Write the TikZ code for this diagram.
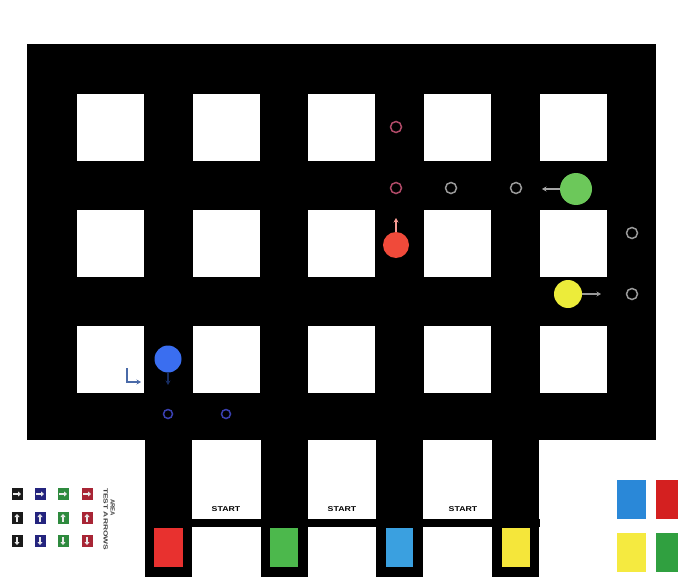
\documentclass[tikz,border=0pt]{standalone}
\usepackage{fontspec}
\setsansfont{Liberation Sans}
\usetikzlibrary{arrows.meta}
\definecolor{cRed}{HTML}{F04A3A}
\definecolor{cGreen}{HTML}{6CC85A}
\definecolor{cYellow}{HTML}{ECEC3A}
\definecolor{cBlue}{HTML}{3A6EF0}
\definecolor{ringRed}{HTML}{B04A68}
\definecolor{ringGray}{HTML}{9A9A9A}
\definecolor{ringBlue}{HTML}{3A40B0}
\definecolor{padRed}{HTML}{E8312F}
\definecolor{padGreen}{HTML}{4CB84C}
\definecolor{padBlue}{HTML}{3AA0E0}
\definecolor{padYellow}{HTML}{F5E63A}
\definecolor{sBlue}{HTML}{2A88D8}
\definecolor{sRed}{HTML}{D42020}
\definecolor{sYellow}{HTML}{F5EA40}
\definecolor{sGreen}{HTML}{30A040}
\definecolor{lgBlack}{HTML}{1A1A1A}
\definecolor{lgNavy}{HTML}{24247E}
\definecolor{lgGreen}{HTML}{2E8A3E}
\definecolor{lgRed}{HTML}{A82535}
\definecolor{hookBlue}{HTML}{4A6AA8}
\begin{document}
\begin{tikzpicture}[x=1pt,y=-1pt,
  ring/.style={circle,draw,line width=1.5pt,minimum size=11pt,inner sep=0pt},
  smallring/.style={circle,draw=ringBlue,line width=1.5pt,minimum size=9pt,inner sep=0pt},
  bot/.style={circle,inner sep=0pt},
  dirarrow/.style={-{Stealth[length=4.5pt,width=5pt]},line width=1.2pt},
  startlbl/.style={font=\sffamily\bfseries\fontsize{7}{8}\selectfont,inner sep=0pt},
  lgbox/.style={minimum width=11pt,minimum height=12pt,inner sep=0pt},
  lgarrow/.style={white!92!black,line width=1.4pt,-{Triangle[length=3pt,width=5pt]}}
]
\useasboundingbox[fill=white] (0,0) rectangle (678,586);

% board
\fill[black] (27,44) rectangle (656,440);
\foreach \cx in {145,261,376,492}{
  \fill[black] (\cx,439) rectangle ++(47,138);
}
\fill[black] (145,519) rectangle (540,527);

% white squares
\foreach \sx in {77,193,308,424,540}{
  \foreach \sy in {94,210,326}{
    \fill[white] (\sx,\sy) rectangle ++(67,67);
  }
}

% start pads
\fill[padRed] (154,528) rectangle (183,567);
\fill[padGreen] (270,528) rectangle (298,567);
\fill[padBlue] (386,528) rectangle (413,567);
\fill[padYellow] (502,528) rectangle (530,567);

\node[startlbl] (s1) at (226,509) {\scalebox{1.25}[1]{START}};
\node[startlbl] (s2) at (342,509) {\scalebox{1.25}[1]{START}};
\node[startlbl] (s3) at (463,509) {\scalebox{1.25}[1]{START}};

% side colour squares
\fill[sBlue] (617,480) rectangle (646,519);
\fill[sRed] (656,480) rectangle (678,519);
\fill[sYellow] (617,533) rectangle (646,572);
\fill[sGreen] (656,533) rectangle (678,572);

% rings
\node[ring,draw=ringRed] (r1) at (396,127) {};
\node[ring,draw=ringRed] (r2) at (396,188) {};
\node[ring,draw=ringGray] (g1) at (451,188) {};
\node[ring,draw=ringGray] (g2) at (516,188) {};
\node[ring,draw=ringGray] (g3) at (632,233) {};
\node[ring,draw=ringGray] (g4) at (632,294) {};
\node[smallring] (b1) at (168,414) {};
\node[smallring] (b2) at (226,414) {};

% robots
\node[bot,fill=cRed,minimum size=26pt] (red) at (396,245) {};
\node[bot,fill=cGreen,minimum size=32pt] (green) at (576,189) {};
\node[bot,fill=cYellow,minimum size=28pt] (yellow) at (568,294) {};
\node[bot,fill=cBlue,minimum size=27pt] (blue) at (168,359) {};

\coordinate (redtip) at (396,218);
\coordinate (greentip) at (542,189);
\coordinate (yellowtip) at (601,294);
\coordinate (bluetip) at (168,385);
\draw[dirarrow,color=cRed!55!white] (red.north) -- (redtip);
\draw[dirarrow,color=gray!70!white] (green.west) -- (greentip);
\draw[dirarrow,color=gray!80!white] (yellow.east) -- (yellowtip);
\draw[dirarrow,color=cBlue!40!black] (blue.south) -- (bluetip);

% hook arrow
\draw[hookBlue,line width=1.3pt,-{Stealth[length=4.5pt,width=5pt]}] (127,368) -- (127,382) -- (141,382);

% legend
\foreach \col/\lx in {lgBlack/17,lgNavy/40,lgGreen/63,lgRed/87}{
  \node[lgbox,fill=\col] (a\lx) at (\lx,494) {};
  \draw[lgarrow] ([xshift=-4pt]a\lx.center) -- ([xshift=4pt]a\lx.center);
  \node[lgbox,fill=\col] (u\lx) at (\lx,518) {};
  \draw[lgarrow] ([yshift=-4pt]u\lx.center) -- ([yshift=4pt]u\lx.center);
  \node[lgbox,fill=\col] (d\lx) at (\lx,541) {};
  \draw[lgarrow] ([yshift=4pt]d\lx.center) -- ([yshift=-4pt]d\lx.center);
}
\node[rotate=-90,anchor=north west,inner sep=0pt,text=black!75,
  font=\sffamily\bfseries\fontsize{6}{7}\selectfont] (area) at (115,499) {AREA};
\node[rotate=-90,anchor=north west,inner sep=0pt,text=black!75,
  font=\sffamily\bfseries\fontsize{6}{7}\selectfont] (test) at (108,488) {\scalebox{1.4}[1]{TEST ARROWS}};
\end{tikzpicture}
\end{document}
